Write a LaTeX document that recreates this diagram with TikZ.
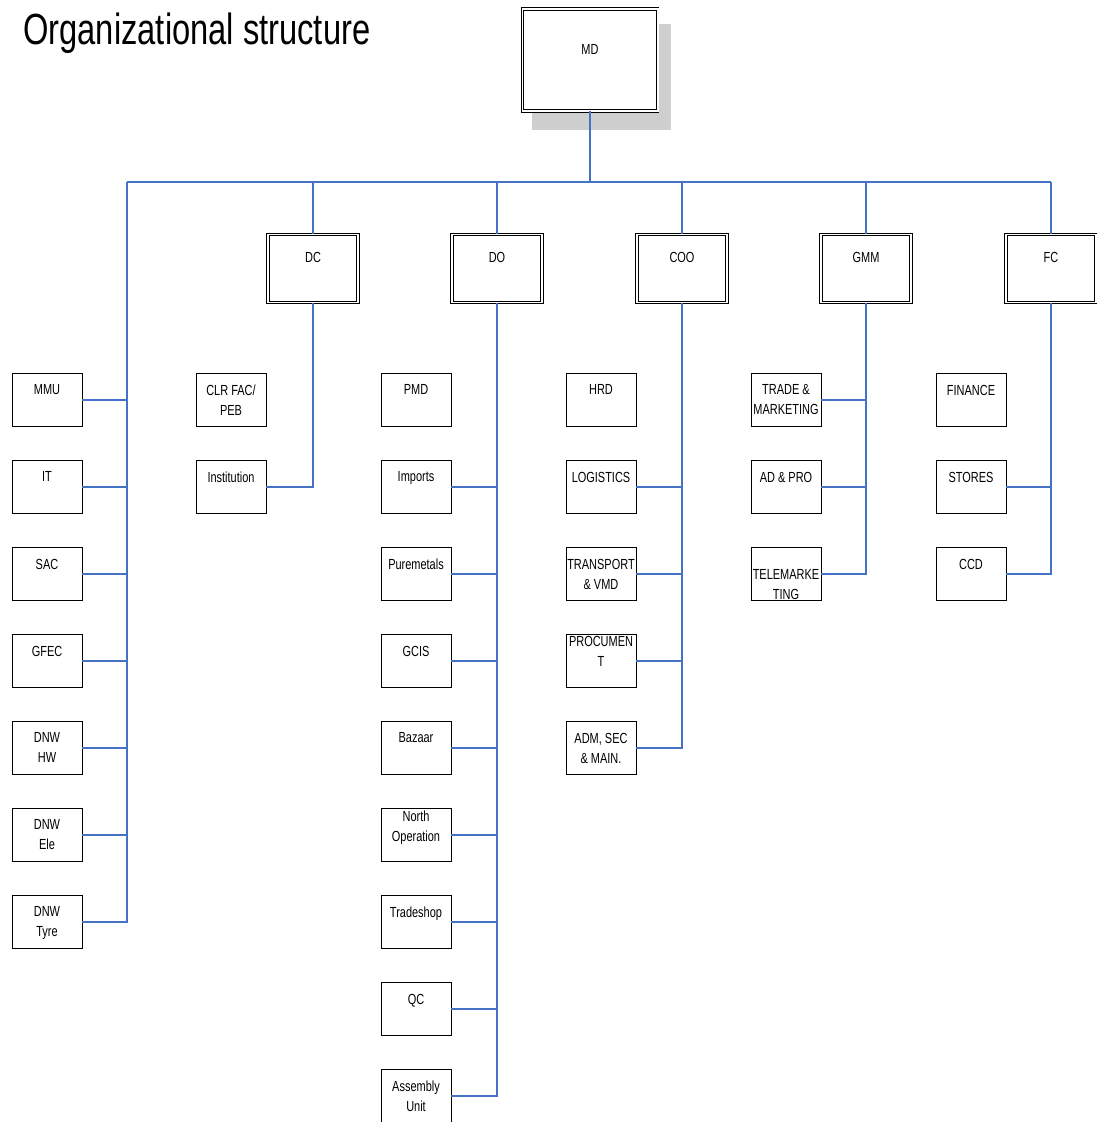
\documentclass[tikz,border=0pt]{standalone}
\usepackage{fontspec}
\setmainfont{Liberation Sans}[FakeStretch=0.75]
\definecolor{linkblue}{RGB}{68,114,196}
\definecolor{shadowgray}{RGB}{207,207,207}
\tikzset{
  unitbox/.style={draw, line width=0.6pt, fill=white, minimum width=1.75cm, minimum height=1.325cm, inner sep=0pt},
  unittext/.style={anchor=north, inner sep=0pt, align=center, font=\fontsize{10.4}{14.2}\selectfont, yshift=-0.2875cm},
  headtext/.style={anchor=north, inner sep=0pt, font=\fontsize{10.4}{14.2}\selectfont, yshift=-0.45cm},
  headbox/.style={draw, double, double distance=1.4pt, line width=0.5pt, fill=white, minimum width=2.25cm, minimum height=1.7cm, inner sep=0pt},
  link/.style={draw=linkblue, line width=0.9pt},
}
\begin{document}
\begin{tikzpicture}[x=0.025cm, y=-0.025cm]
  \useasboundingbox (0,0) rectangle (1096,1122);

  \node[anchor=base west, inner sep=0pt, font=\fontsize{31}{36}\selectfont] (title) at (23,45) {Organizational structure};

  % managing director, with its shadow
  \fill[shadowgray] (532,24) rectangle (671,130);
  \node[headbox, minimum width=3.375cm, minimum height=2.55cm,
        label={[headtext, yshift=-0.45cm]north:MD}] (md) at (590,60) {};

  % directors
  \node[headbox, label={[headtext]north:DC}] (dc) at (313,268.5) {};
  \node[headbox, label={[headtext]north:DO}] (do) at (497,268.5) {};
  \node[headbox, label={[headtext]north:COO}] (coo) at (682,268.5) {};
  \node[headbox, label={[headtext]north:GMM}] (gmm) at (866,268.5) {};
  \node[headbox, label={[headtext]north:FC}] (fc) at (1051,268.5) {};

  % left column
  \node[unitbox, label={[unittext]north:MMU}] (mmu) at (47,400) {};
  \node[unitbox, label={[unittext]north:IT}] (it) at (47,487) {};
  \node[unitbox, label={[unittext]north:SAC}] (sac) at (47,574) {};
  \node[unitbox, label={[unittext]north:GFEC}] (gfec) at (47,661) {};
  \node[unitbox, label={[unittext]north:DNW\\HW}] (dnwhw) at (47,748) {};
  \node[unitbox, label={[unittext]north:DNW\\Ele}] (dnwele) at (47,835) {};
  \node[unitbox, label={[unittext]north:DNW\\Tyre}] (dnwtyre) at (47,922) {};

  % under DC
  \node[unitbox, label={[unittext]north:CLR FAC/\\PEB}] (clr) at (231,400) {};
  \node[unitbox, label={[unittext]north:Institution}] (inst) at (231,487) {};

  % under DO
  \node[unitbox, label={[unittext]north:PMD}] (pmd) at (416,400) {};
  \node[unitbox, label={[unittext]north:Imports}] (imports) at (416,487) {};
  \node[unitbox, label={[unittext]north:Puremetals}] (puremetals) at (416,574) {};
  \node[unitbox, label={[unittext]north:GCIS}] (gcis) at (416,661) {};
  \node[unitbox, label={[unittext]north:Bazaar}] (bazaar) at (416,748) {};
  \node[unitbox, label={[unittext, yshift=0.225cm]north:North\\Operation}] (north) at (416,835) {};
  \node[unitbox, label={[unittext]north:Tradeshop}] (tradeshop) at (416,922) {};
  \node[unitbox, label={[unittext]north:QC}] (qc) at (416,1009) {};
  \node[unitbox, label={[unittext]north:Assembly\\Unit}] (assembly) at (416,1096) {};

  % under COO
  \node[unitbox, label={[unittext]north:HRD}] (hrd) at (601,400) {};
  \node[unitbox, label={[unittext]north:LOGISTICS}] (logistics) at (601,487) {};
  \node[unitbox, label={[unittext]north:TRANSPORT\\\& VMD}] (transport) at (601,574) {};
  \node[unitbox, label={[unittext, yshift=0.25cm]north:PROCUMEN\\T}] (procurement) at (601,661) {};
  \node[unitbox, label={[unittext]north:ADM, SEC\\\& MAIN.}] (adm) at (601,748) {};

  % under GMM
  \node[unitbox, label={[unittext]north:TRADE \&\\MARKETING}] (trade) at (786,400) {};
  \node[unitbox, label={[unittext]north:AD \& PRO}] (adpro) at (786,487) {};
  \node[unitbox, label={[unittext, yshift=-0.275cm]north:TELEMARKE\\TING}] (telemkt) at (786,574) {};

  % under FC
  \node[unitbox, label={[unittext]north:FINANCE}] (finance) at (971,400) {};
  \node[unitbox, label={[unittext]north:STORES}] (stores) at (971,487) {};
  \node[unitbox, label={[unittext]north:CCD}] (ccd) at (971,574) {};

  % connectors
  \coordinate (lbar) at (127,182);
  \draw[link] (md.south) -- (md.south |- lbar);
  \draw[link] (lbar) -- (lbar -| fc.north);
  \draw[link] (dc.north) -- (dc.north |- lbar);
  \draw[link] (do.north) -- (do.north |- lbar);
  \draw[link] (coo.north) -- (coo.north |- lbar);
  \draw[link] (gmm.north) -- (gmm.north |- lbar);
  \draw[link] (fc.north) -- (fc.north |- lbar);

  \draw[link] (lbar) |- (dnwtyre.east);
  \draw[link] (mmu.east) -- (mmu.east -| lbar);
  \draw[link] (it.east) -- (it.east -| lbar);
  \draw[link] (sac.east) -- (sac.east -| lbar);
  \draw[link] (gfec.east) -- (gfec.east -| lbar);
  \draw[link] (dnwhw.east) -- (dnwhw.east -| lbar);
  \draw[link] (dnwele.east) -- (dnwele.east -| lbar);

  \draw[link] (dc.south) |- (inst.east);

  \draw[link] (do.south) |- (assembly.east);
  \draw[link] (imports.east) -- (imports.east -| do.south);
  \draw[link] (puremetals.east) -- (puremetals.east -| do.south);
  \draw[link] (gcis.east) -- (gcis.east -| do.south);
  \draw[link] (bazaar.east) -- (bazaar.east -| do.south);
  \draw[link] (north.east) -- (north.east -| do.south);
  \draw[link] (tradeshop.east) -- (tradeshop.east -| do.south);
  \draw[link] (qc.east) -- (qc.east -| do.south);

  \draw[link] (coo.south) |- (adm.east);
  \draw[link] (logistics.east) -- (logistics.east -| coo.south);
  \draw[link] (transport.east) -- (transport.east -| coo.south);
  \draw[link] (procurement.east) -- (procurement.east -| coo.south);

  \draw[link] (gmm.south) |- (telemkt.east);
  \draw[link] (trade.east) -- (trade.east -| gmm.south);
  \draw[link] (adpro.east) -- (adpro.east -| gmm.south);

  \draw[link] (fc.south) |- (ccd.east);
  \draw[link] (stores.east) -- (stores.east -| fc.south);
\end{tikzpicture}
\end{document}
